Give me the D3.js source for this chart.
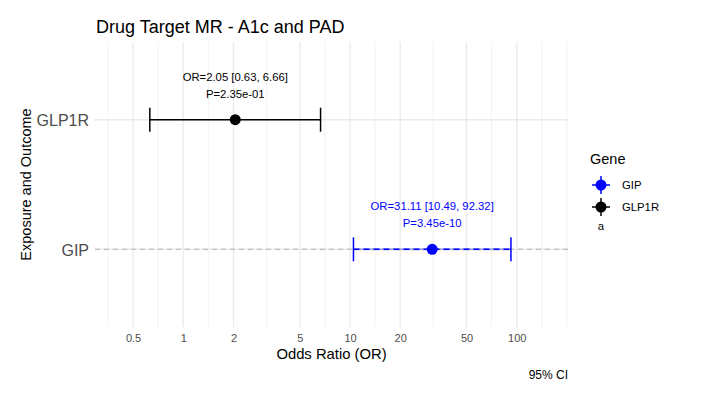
<!DOCTYPE html>
<html>
<head>
<meta charset="utf-8">
<script src="https://cdn.jsdelivr.net/npm/d3@7"></script>
<style>
body { margin:0; background:#fff; }
svg text { font-family: "Liberation Sans", Arial, sans-serif; }
</style>
</head>
<body>
<div id="chart"></div>
<script>
// Data
const genes = ["GIP", "GLP1R"];
const orValues = [31.11, 2.05];
const ciLower = [10.49, 0.63];
const ciUpper = [92.32, 6.66];
const pValues = ["3.45e-10", "2.35e-01"];
const geneColors = ["#0000ff", "#000000"];
const xTicks = [0.5, 1, 2, 5, 10, 20, 50, 100];
const minorTicks = [0.3536, 0.7071, 1.414, 3.162, 7.071, 14.14, 31.62, 70.71, 141.4, 200];

const W = 705, H = 399;
const panel = {left:95, right:568, top:42, bottom:327};

const svg = d3.select("#chart")
.append("svg")
.attr("width", W)
.attr("height", H);

// X scale (log)
const x = d3.scaleLog()
.domain([0.2955, 203])
.range([panel.left, panel.right]);

// Y scale
const y = d3.scalePoint()
.domain(["GIP", "GLP1R"])
.range([panel.bottom, panel.top])
.padding(0.6);

// Grid
svg.append("g").selectAll("line.minor")
.data(minorTicks)
.enter()
.append("line")
.attr("x1", d => x(d)).attr("x2", d => x(d))
.attr("y1", panel.top).attr("y2", panel.bottom)
.attr("stroke", "#ebebeb").attr("stroke-width", 0.7);

svg.append("g").selectAll("line.major")
.data(xTicks)
.enter()
.append("line")
.attr("x1", d => x(d)).attr("x2", d => x(d))
.attr("y1", panel.top).attr("y2", panel.bottom)
.attr("stroke", "#ebebeb").attr("stroke-width", 1.3);

svg.append("g").selectAll("line.hgrid")
.data(genes)
.enter()
.append("line")
.attr("x1", panel.left).attr("x2", panel.right)
.attr("y1", d => y(d)).attr("y2", d => y(d))
.attr("stroke", "#ebebeb").attr("stroke-width", 1.3);

// dashed reference line at GIP
svg.append("line")
.attr("x1", panel.left).attr("x2", panel.right)
.attr("y1", y("GIP")).attr("y2", y("GIP"))
.attr("stroke", "#b3b3b3").attr("stroke-width", 1.2)
.attr("stroke-dasharray", "5,4");

// X axis
const xAxis = svg.append("g")
.attr("transform", `translate(0,${panel.bottom})`)
.call(d3.axisBottom(x).tickValues(xTicks).tickFormat(d3.format("~g")).tickSize(0).tickPadding(7));
xAxis.select(".domain").remove();
xAxis.selectAll("text").attr("fill", "#4d4d4d").style("font-size", "11px");

// Y axis
const yAxis = svg.append("g")
.attr("transform", `translate(${panel.left},0)`)
.call(d3.axisLeft(y).tickSize(0).tickPadding(6));
yAxis.select(".domain").remove();
yAxis.selectAll("text").attr("fill", "#4d4d4d").style("font-size", "16px").attr("dy", "0.36em");

// Forest rows
const rows = genes.map((g, i) => ({gene:g, or:orValues[i], lo:ciLower[i], hi:ciUpper[i], p:pValues[i], color:geneColors[i]}));

const row = svg.append("g").selectAll("g.row")
.data(rows)
.enter()
.append("g");

// faint underlay for dashed GIP bar
row.filter(d => d.gene === "GIP")
.append("line")
.attr("x1", d => x(d.lo)).attr("x2", d => x(d.hi))
.attr("y1", d => y(d.gene)).attr("y2", d => y(d.gene))
.attr("stroke", "#a8a8e0").attr("stroke-width", 2);

row.append("line")
.attr("x1", d => x(d.lo)).attr("x2", d => x(d.hi))
.attr("y1", d => y(d.gene)).attr("y2", d => y(d.gene))
.attr("stroke", d => d.color).attr("stroke-width", 1.5)
.attr("stroke-dasharray", d => d.gene === "GIP" ? "6,4" : null);

row.selectAll("line.cap")
.data(d => [d.lo, d.hi].map(v => ({v:v, d:d})))
.enter()
.append("line")
.attr("x1", c => x(c.v)).attr("x2", c => x(c.v))
.attr("y1", c => y(c.d.gene) - 12).attr("y2", c => y(c.d.gene) + 12)
.attr("stroke", c => c.d.color).attr("stroke-width", 1.5);

row.append("circle")
.attr("cx", d => x(d.or))
.attr("cy", d => y(d.gene))
.attr("r", 5.5)
.attr("fill", d => d.color);

row.append("text")
.attr("x", d => x(d.or))
.attr("y", d => y(d.gene) - 39)
.attr("text-anchor", "middle")
.attr("fill", d => d.color)
.style("font-size", "11.3px")
.text(d => `OR=${d.or.toFixed(2)} [${d.lo.toFixed(2)}, ${d.hi.toFixed(2)}]`);

row.append("text")
.attr("x", d => x(d.or))
.attr("y", d => y(d.gene) - 22)
.attr("text-anchor", "middle")
.attr("fill", d => d.color)
.style("font-size", "11.3px")
.text(d => `P=${d.p}`);

// Titles
svg.append("text")
.attr("x", 96).attr("y", 33)
.style("font-size", "18px").attr("fill", "#000")
.text("Drug Target MR - A1c and PAD");

svg.append("text")
.attr("x", (panel.left + panel.right) / 2).attr("y", 359)
.attr("text-anchor", "middle")
.style("font-size", "14.8px").attr("fill", "#000")
.text("Odds Ratio (OR)");

svg.append("text")
.attr("transform", `translate(31,${(panel.top + panel.bottom) / 2}) rotate(-90)`)
.attr("text-anchor", "middle")
.style("font-size", "14.5px").attr("fill", "#000")
.text("Exposure and Outcome");

svg.append("text")
.attr("x", 568).attr("y", 379)
.attr("text-anchor", "end")
.style("font-size", "12px").attr("fill", "#000")
.text("95% CI");

// Legend
const legend = svg.append("g").attr("transform", "translate(590,0)");
legend.append("text")
.attr("x", 0).attr("y", 164)
.style("font-size", "14.5px").attr("fill", "#000")
.text("Gene");

const keys = legend.selectAll("g.key")
.data(rows)
.enter()
.append("g")
.attr("transform", (d, i) => `translate(11,${185 + i * 22})`);

keys.append("line")
.attr("x1", -9).attr("x2", 9).attr("y1", 0).attr("y2", 0)
.attr("stroke", d => d.color).attr("stroke-width", 1.5);
keys.append("line")
.attr("x1", 0).attr("x2", 0).attr("y1", -9).attr("y2", 9)
.attr("stroke", d => d.color).attr("stroke-width", 1.5);
keys.append("circle")
.attr("r", 5.5).attr("fill", d => d.color);
keys.append("text")
.attr("x", 21).attr("y", 4)
.style("font-size", "11.3px").attr("fill", "#000")
.text(d => d.gene);

legend.append("text")
.attr("x", 11).attr("y", 230)
.attr("text-anchor", "middle")
.style("font-size", "11.3px").attr("fill", "#000")
.text("a");
</script>
</body>
</html>
